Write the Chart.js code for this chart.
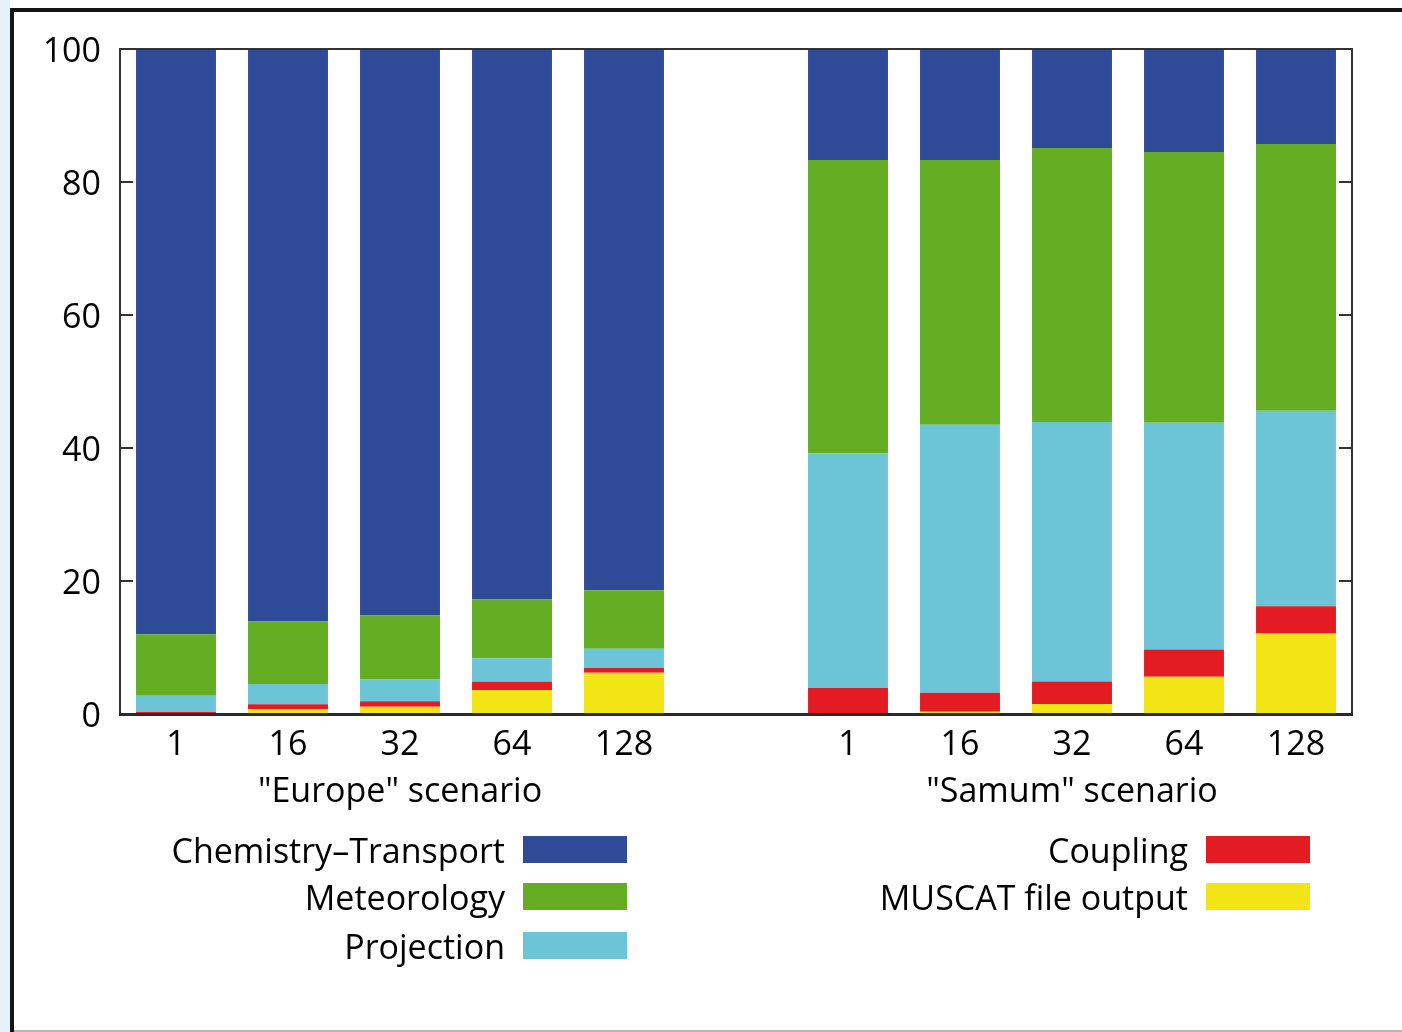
<!DOCTYPE html>
<html>
<head>
<meta charset="utf-8">
<script src="https://cdn.jsdelivr.net/npm/chart.js@4.4.1/dist/chart.umd.min.js"></script>
<style>
  body { margin: 0; background: #fff; }
  #quadro { position: relative; width: 1402px; height: 1032px; overflow: hidden; background: #fff; }
  #faixa { position: absolute; left: 0; top: 0; width: 10px; height: 1032px; background: #e6f2fb; }
  #bordaTopo { position: absolute; left: 10px; top: 8px; width: 1392px; height: 4px; background: #151515; }
  #bordaEsq { position: absolute; left: 10px; top: 8px; width: 4px; height: 1024px; background: #151515; }
  #bordaBaixo { position: absolute; left: 14px; top: 1030px; width: 1388px; height: 2px; background: #b5b5b5; }
  #myChart { position: absolute; left: 0; top: 0; }
  .legenda { position: absolute; height: 27px; font-family: "Open Sans", sans-serif; font-size: 34px; color: #000; }
  .legenda span { position: absolute; right: 122px; top: -9px; white-space: nowrap; }
  .legenda i { position: absolute; right: 0; top: 0; width: 104px; height: 27px; }
</style>
</head>
<body>
<div id="quadro">
  <div id="faixa"></div>
  <div id="bordaTopo"></div>
  <div id="bordaEsq"></div>
  <div id="bordaBaixo"></div>
  <canvas id="myChart" width="1402" height="1032"></canvas>
</div>

<script>
const categorias = ['1', '16', '32', '64', '128', '', '1', '16', '32', '64', '128']
const grupos = ['"Europe" scenario', '"Samum" scenario']
const indiceGrupos = [2, 8]

const quimica = [88.0, 86.1, 85.2, 82.8, 81.4, null, 16.7, 16.7, 14.9, 15.5, 14.3]
const meteorologia = [9.25, 9.4, 9.6, 8.8, 8.8, null, 44.1, 39.8, 41.2, 40.7, 40.1]
const projecao = [2.45, 3.05, 3.3, 3.55, 2.9, null, 35.3, 40.3, 39.0, 34.1, 29.4]
const acoplamento = [0.2, 0.7, 0.8, 1.25, 0.7, null, 3.8, 2.85, 3.4, 4.1, 4.1]
const saida = [0.1, 0.75, 1.1, 3.6, 6.2, null, 0.1, 0.35, 1.5, 5.6, 12.1]

const ticksY = [0, 20, 40, 60, 80, 100]

const fonte = { family: '"Open Sans", sans-serif', size: 34 }


// moldura do grafico, tracinhos e nome dos cenarios
const molduraPlugin = {
  id: 'moldura',
  afterDraw(chart) {
    const c = chart.ctx
    const a = chart.chartArea
    const y = chart.scales.y
    const x = chart.scales.x

    c.save()
    c.strokeStyle = '#333'
    c.lineWidth = 2
    c.beginPath()
    c.moveTo(a.left, a.bottom)
    c.lineTo(a.left, a.top)
    c.lineTo(a.right, a.top)
    c.lineTo(a.right, a.bottom)
    c.stroke()

    ticksY.forEach(function (v) {
      if (v == 0 || v == 100) return
      const py = Math.round(y.getPixelForValue(v))
      c.beginPath()
      c.moveTo(a.left, py)
      c.lineTo(a.left + 13, py)
      c.moveTo(a.right, py)
      c.lineTo(a.right - 13, py)
      c.stroke()
    })

    c.strokeStyle = '#2a2a2a'
    c.lineWidth = 3
    c.beginPath()
    c.moveTo(a.left - 1, a.bottom + 0.5)
    c.lineTo(a.right + 1, a.bottom + 0.5)
    c.stroke()

    c.fillStyle = '#000'
    c.font = fonte.size + 'px ' + fonte.family
    c.textAlign = 'center'
    c.textBaseline = 'middle'
    grupos.forEach(function (g, i) {
      c.fillText(g, x.getPixelForValue(indiceGrupos[i]), 792)
    })
    c.restore()
  }
}


const ctx = document.getElementById('myChart')

const grafico = new Chart(ctx, {
  type: 'bar',
  data: {
    labels: categorias,
    datasets: [{
      label: 'MUSCAT file output',
      data: saida,
      backgroundColor: '#F2E415'
    }, {
      label: 'Coupling',
      data: acoplamento,
      backgroundColor: '#E31C24'
    }, {
      label: 'Projection',
      data: projecao,
      backgroundColor: '#6CC5D7'
    }, {
      label: 'Meteorology',
      data: meteorologia,
      backgroundColor: '#65AE24'
    }, {
      label: 'Chemistry–Transport',
      data: quimica,
      backgroundColor: '#2F4A96'
    }]
  },
  options: {
    responsive: false,
    animation: false,
    devicePixelRatio: 1,
    layout: {
      padding: { left: 0, top: 49, right: 50, bottom: 0 }
    },
    datasets: {
      bar: {
        categoryPercentage: 1,
        barPercentage: 0.714,
        borderWidth: 0
      }
    },
    plugins: {
      legend: { display: false },
      tooltip: { enabled: false }
    },
    scales: {
      x: {
        stacked: true,
        grid: { display: false, drawTicks: false },
        border: { display: false },
        ticks: {
          color: '#000',
          font: fonte,
          padding: 11,
          maxRotation: 0,
          autoSkip: false
        },
        afterFit: function (s) { s.height = 318 }
      },
      y: {
        stacked: true,
        min: 0,
        max: 100,
        grid: { display: false, drawTicks: false },
        border: { display: false },
        ticks: {
          stepSize: 20,
          color: '#000',
          font: fonte,
          padding: 19,
          labelOffset: 3
        },
        afterFit: function (s) { s.width = 120 }
      }
    }
  },
  plugins: [molduraPlugin]
})


// legenda feita na mao, texto antes da caixinha
const itensLegenda = [
  { nome: 'Chemistry–Transport', ds: 4, right: 775, top: 836 },
  { nome: 'Meteorology', ds: 3, right: 775, top: 883 },
  { nome: 'Projection', ds: 2, right: 775, top: 932 },
  { nome: 'Coupling', ds: 1, right: 92, top: 836 },
  { nome: 'MUSCAT file output', ds: 0, right: 92, top: 883 }
]

const quadro = document.getElementById('quadro')
itensLegenda.forEach(function (item) {
  const div = document.createElement('div')
  div.className = 'legenda'
  div.style.right = item.right + 'px'
  div.style.top = item.top + 'px'
  div.style.width = '700px'
  const span = document.createElement('span')
  span.textContent = item.nome
  const caixa = document.createElement('i')
  caixa.style.background = grafico.data.datasets[item.ds].backgroundColor
  div.appendChild(span)
  div.appendChild(caixa)
  quadro.appendChild(div)
})
</script>
</body>
</html>
